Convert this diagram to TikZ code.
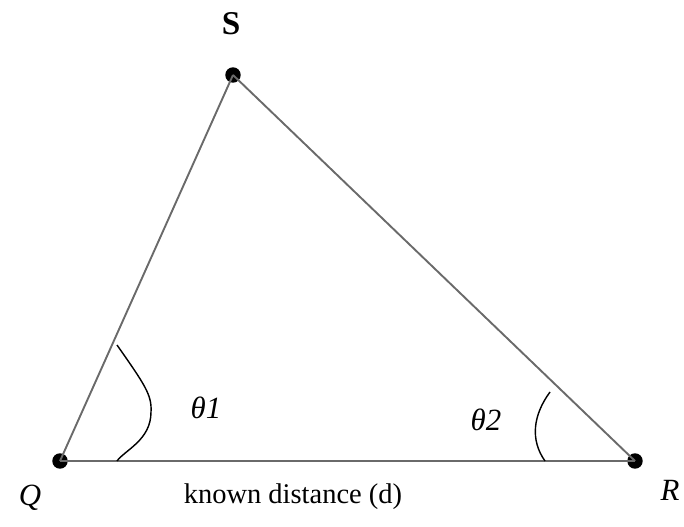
\documentclass[tikz,border=0pt]{standalone}
\usepackage{fontspec}
\setmainfont{Liberation Serif}
\usetikzlibrary{positioning}
\definecolor{grey600}{HTML}{6A6A6A}
\tikzset{
  pt/.style   ={circle, fill=black, inner sep=0pt, minimum size=6.5pt},
  side/.style ={draw=grey600, line width=0.8pt},
  angarc/.style={draw=black, line width=0.6pt},
  lbl/.style  ={font=\fontsize{12}{14}\selectfont, inner sep=1pt},
  ang/.style  ={font=\fontsize{13}{15}\selectfont\itshape, text=black, inner sep=1pt}
}
\begin{document}
\begin{tikzpicture}[x=0.0148cm, y=-0.0148cm]
\useasboundingbox (0,0) rectangle (684,527);
% the three points
\node[pt] (Q) at (60,461) {};
\node[pt] (R) at (635,461) {};
\node[pt] (S) at (233,75) {};
% sides
\draw[side] (Q.center) -- (S.center);
\draw[side] (S.center) -- (R.center);
\draw[side] (Q.center) -- (R.center);
% angle marks
\draw[angarc] (117,345) .. controls (145,385) and (152,395) .. (151,412)
  .. controls (151,440) and (125,450) .. (117,461);
\draw[angarc] (550,392) .. controls (533,415) and (530,440) .. (545,461);
% labels
\node[lbl, font=\fontsize{14}{16}\selectfont\bfseries] (Slbl) at (231,24) {S};
\node[lbl, font=\fontsize{13}{15}\selectfont\itshape] (Qlbl) at (30,498) {Q};
\node[lbl, font=\fontsize{13}{15}\selectfont\itshape] (Rlbl) at (670,490) {R};
\node[ang] (t1) at (206,408) {θ1};
\node[ang] (t2) at (486,420) {θ2};
\node[lbl] (dist) at (293,497) {known distance (d)};
\end{tikzpicture}
\end{document}
